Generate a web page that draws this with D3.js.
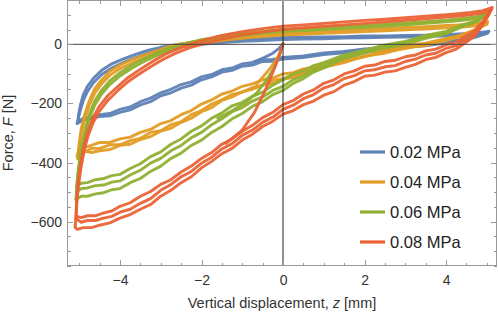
<!DOCTYPE html>
<html>
<head>
<meta charset="utf-8">
<script src="https://cdn.jsdelivr.net/npm/d3@7"></script>
<style>
  body { margin: 0; background: #fff; }
  svg { display: block; font-family: "Liberation Sans", Arial, sans-serif; }
</style>
</head>
<body>
<div id="app"></div>
<script>
const W = 498, H = 316
const plot = {left: 67, right: 497, top: 0, bottom: 266}

const pressures = ["0.02 MPa", "0.04 MPa", "0.06 MPa", "0.08 MPa"]
const colors = ["#5E81B5", "#E19C24", "#8FB032", "#EB6235"]

const xTicks = [-4, -2, 0, 2, 4]
const yTicks = [-600, -400, -200, 0]

// 0.02 MPa  [z (mm), F (N)]
const blueUp1 = [[5.05,44],[4.7,38],[4.3,35],[4,33],[3.5,31],[3,30],[2.5,28],[2,28],[1.5,26],[1,25],[0.5,24],[0,23],[-0.5,20],[-1,17],[-1.5,13],[-2,8],[-2.5,1],[-3,-10],[-3.3,-20],[-3.6,-33],[-3.9,-48],[-4.2,-66],[-4.45,-88],[-4.65,-115],[-4.8,-142],[-4.9,-170],[-4.97,-205],[-5.02,-240],[-5.03,-262]]
const blueUp2 = [[5.02,38],[4.7,33],[4.3,30],[4,28],[3.5,27],[3,25],[2.5,24],[2,22],[1.5,21],[1,19],[0.5,18],[0,16],[-0.5,13],[-1,10],[-1.5,6],[-2,0],[-2.5,-8],[-3,-20],[-3.3,-30],[-3.6,-44],[-3.9,-60],[-4.2,-80],[-4.45,-102],[-4.65,-130],[-4.8,-160],[-4.9,-190],[-4.97,-222],[-5.02,-250],[-5.05,-268]]
const blueLo1 = [[-5.03,-262],[-4.9,-250],[-4.7,-246],[-4.5,-238],[-4.25,-234],[-4,-220],[-3.75,-212],[-3.5,-194],[-3.25,-182],[-3,-164],[-2.75,-152],[-2.5,-136],[-2.25,-127],[-2,-110],[-1.75,-102],[-1.5,-86],[-1.25,-80],[-1,-66],[-0.75,-61],[-0.5,-52],[-0.25,-51],[0,-44],[0.5,-39],[1,-29],[1.5,-24],[2,-16],[2.5,-13],[3,-5],[3.5,-1],[4,9],[4.4,16],[4.75,29],[5.05,44]]
const blueLo2 = [[-5.05,-268],[-4.9,-256],[-4.7,-252],[-4.5,-244],[-4.25,-242],[-4,-230],[-3.75,-222],[-3.5,-205],[-3.25,-194],[-3,-174],[-2.75,-164],[-2.5,-148],[-2.25,-138],[-2,-120],[-1.75,-110],[-1.5,-94],[-1.25,-88],[-1,-74],[-0.75,-70],[-0.5,-58],[-0.25,-57],[0,-50],[0.5,-45],[1,-35],[1.5,-29],[2,-21],[2.5,-17],[3,-9],[3.5,-5],[4,5],[4.4,12],[4.75,25],[5.02,38]]
const blueInit = [[0,2],[-0.1,-14],[-0.25,-30],[-0.45,-44],[-0.7,-58]]

// 0.04 MPa
const orangeUp1 = [[5.02,76],[4.7,70],[4.3,66],[4,64],[3.5,60],[3,57],[2.5,54],[2,51],[1.5,47],[1,44],[0.5,41],[0,38],[-0.5,33],[-1,28],[-1.5,21],[-2,13],[-2.5,1],[-2.8,-8],[-3.1,-22],[-3.4,-36],[-3.7,-52],[-4,-70],[-4.25,-92],[-4.45,-120],[-4.62,-150],[-4.75,-190],[-4.86,-235],[-4.95,-285],[-5,-335],[-5.03,-388]]
const orangeUp2 = [[5,68],[4.7,62],[4.3,58],[4,56],[3.5,52],[3,49],[2.5,46],[2,43],[1.5,40],[1,37],[0.5,34],[0,31],[-0.5,26],[-1,20],[-1.5,13],[-2,4],[-2.5,-8],[-2.8,-18],[-3.1,-32],[-3.4,-46],[-3.7,-63],[-4,-82],[-4.25,-105],[-4.45,-133],[-4.62,-165],[-4.75,-205],[-4.86,-250],[-4.95,-300],[-5,-345],[-5.05,-380]]
const orangeLo1 = [[-5.03,-388],[-4.9,-368],[-4.7,-352],[-4.5,-352],[-4.25,-340],[-4,-340],[-3.75,-326],[-3.5,-318],[-3.25,-298],[-3,-292],[-2.75,-272],[-2.5,-262],[-2.25,-238],[-2,-224],[-1.75,-202],[-1.5,-188],[-1.25,-170],[-1,-162],[-0.75,-146],[-0.5,-138],[-0.25,-122],[0,-116],[0.25,-102],[0.5,-97],[0.75,-83],[1,-78],[1.5,-56],[2,-42],[2.5,-24],[3,-14],[3.5,2],[4,12],[4.4,33],[4.75,51],[5.02,76]]
const orangeLo2 = [[-5.05,-380],[-4.9,-350],[-4.7,-342],[-4.5,-332],[-4.25,-332],[-4,-320],[-3.75,-314],[-3.5,-298],[-3.25,-288],[-3,-268],[-2.75,-258],[-2.5,-238],[-2.25,-224],[-2,-202],[-1.75,-188],[-1.5,-168],[-1.25,-158],[-1,-142],[-0.75,-134],[-0.5,-120],[-0.25,-114],[0,-100],[0.25,-96],[0.5,-83],[0.75,-78],[1,-64],[1.5,-50],[2,-28],[2.5,-20],[3,-3],[3.5,4],[4,20],[4.4,32],[4.75,51],[5,68]]
const orangeLo3 = [[-5.02,-372],[-4.9,-360],[-4.7,-366],[-4.5,-360],[-4.25,-356],[-4,-342],[-3.75,-338],[-3.5,-322],[-3.25,-312],[-3,-294],[-2.75,-284],[-2.5,-264],[-2.25,-250],[-2,-228],[-1.75,-214],[-1.5,-190],[-1.25,-178],[-1,-160],[-0.75,-152],[-0.5,-138],[-0.25,-132],[0,-118],[0.25,-112],[0.5,-98],[0.75,-92],[1,-78],[1.5,-62],[2,-40],[2.5,-30],[3,-12],[3.5,-4],[4,14],[4.4,28],[4.75,51],[5.02,74]]
const orangeInit = [[0,2],[-0.08,-30],[-0.18,-55],[-0.32,-82],[-0.48,-108],[-0.65,-134]]

// 0.06 MPa
const greenUp1 = [[4.97,102],[4.7,92],[4.3,86],[4,82],[3.5,77],[3,72],[2.5,68],[2,64],[1.5,60],[1,56],[0.5,53],[0,50],[-0.5,44],[-1,37],[-1.5,28],[-2,16],[-2.4,2],[-2.8,-14],[-3.1,-30],[-3.4,-48],[-3.7,-70],[-4,-96],[-4.25,-124],[-4.45,-155],[-4.62,-192],[-4.75,-236],[-4.86,-290],[-4.95,-350],[-5.02,-420],[-5.06,-480],[-5.08,-525]]
const greenUp2 = [[4.93,95],[4.7,86],[4.3,80],[4,76],[3.5,71],[3,66],[2.5,62],[2,58],[1.5,54],[1,50],[0.5,47],[0,44],[-0.5,38],[-1,30],[-1.5,21],[-2,9],[-2.4,-5],[-2.8,-22],[-3.1,-38],[-3.4,-57],[-3.7,-80],[-4,-107],[-4.25,-136],[-4.45,-168],[-4.62,-206],[-4.75,-250],[-4.86,-305],[-4.95,-365],[-5.02,-430],[-5.06,-480],[-5.07,-500]]
const greenLo1 = [[-5.08,-525],[-4.95,-514],[-4.8,-514],[-4.6,-506],[-4.4,-502],[-4.2,-492],[-4,-488],[-3.75,-468],[-3.5,-454],[-3.25,-430],[-3,-412],[-2.75,-386],[-2.5,-368],[-2.25,-342],[-2,-324],[-1.75,-298],[-1.5,-278],[-1.25,-252],[-1,-234],[-0.75,-210],[-0.5,-194],[-0.25,-170],[0,-156],[0.25,-132],[0.5,-116],[0.75,-94],[1,-80],[1.5,-48],[2,-30],[2.5,-12],[3,0],[3.5,20],[4,36],[4.4,60],[4.75,78],[4.97,102]]
const greenLo2 = [[-5.07,-500],[-4.95,-488],[-4.8,-486],[-4.6,-478],[-4.4,-476],[-4.2,-466],[-4,-462],[-3.75,-442],[-3.5,-426],[-3.25,-402],[-3,-386],[-2.75,-360],[-2.5,-342],[-2.25,-316],[-2,-298],[-1.75,-272],[-1.5,-252],[-1.25,-228],[-1,-214],[-0.75,-192],[-0.5,-178],[-0.25,-156],[0,-142],[0.25,-120],[0.5,-106],[0.75,-84],[1,-72],[1.5,-42],[2,-24],[2.5,-6],[3,6],[3.5,26],[4,40],[4.4,62],[4.75,76],[4.93,95]]
const greenLo3 = [[-5.05,-480],[-4.95,-470],[-4.8,-468],[-4.6,-458],[-4.4,-454],[-4.2,-444],[-4,-440],[-3.75,-420],[-3.5,-404],[-3.25,-380],[-3,-364],[-2.75,-338],[-2.5,-320],[-2.25,-294],[-2,-276],[-1.75,-250],[-1.5,-232],[-1.25,-208],[-1,-196],[-0.75,-176],[-0.5,-162],[-0.25,-138],[0,-120],[0.25,-100],[0.5,-90],[0.75,-72],[1,-62],[1.5,-36],[2,-20],[2.5,-2],[3,10],[3.5,30],[4,44],[4.4,66],[4.75,80],[4.97,102]]
const greenInit = [[0,2],[-0.08,-35],[-0.2,-75],[-0.4,-120],[-0.65,-165],[-0.93,-198],[-1.25,-225],[-1.6,-250]]

// 0.08 MPa
const redUp1 = [[5.13,124],[4.9,114],[4.6,108],[4.3,104],[4,100],[3.5,95],[3,90],[2.5,85],[2,81],[1.5,76],[1,71],[0.5,66],[0,61],[-0.5,53],[-1,43],[-1.5,30],[-2,12],[-2.3,0],[-2.6,-16],[-2.9,-34],[-3.2,-58],[-3.5,-84],[-3.8,-112],[-4.05,-142],[-4.3,-174],[-4.5,-208],[-4.65,-245],[-4.78,-290],[-4.88,-340],[-4.96,-400],[-5.02,-460],[-5.06,-520],[-5.08,-580],[-5.1,-618]]
const redUp2 = [[5.1,116],[4.9,106],[4.6,100],[4.3,96],[4,92],[3.5,86],[3,81],[2.5,76],[2,71],[1.5,66],[1,61],[0.5,56],[0,50],[-0.5,42],[-1,32],[-1.5,18],[-2,0],[-2.3,-12],[-2.6,-28],[-2.9,-48],[-3.2,-72],[-3.5,-98],[-3.8,-126],[-4.05,-156],[-4.3,-190],[-4.5,-225],[-4.65,-262],[-4.78,-308],[-4.88,-360],[-4.96,-420],[-5.02,-480],[-5.06,-540],[-5.08,-590]]
const redLo1 = [[-5.1,-618],[-5.05,-626],[-4.9,-620],[-4.7,-620],[-4.5,-612],[-4.25,-604],[-4,-588],[-3.75,-576],[-3.5,-558],[-3.25,-542],[-3,-514],[-2.75,-494],[-2.5,-468],[-2.25,-448],[-2,-418],[-1.75,-396],[-1.5,-370],[-1.25,-352],[-1,-324],[-0.75,-304],[-0.5,-278],[-0.25,-260],[0,-236],[0.25,-224],[0.5,-204],[0.75,-192],[1,-172],[1.25,-160],[1.5,-138],[1.75,-126],[2,-108],[2.25,-104],[2.5,-94],[2.75,-90],[3,-78],[3.25,-68],[3.5,-52],[3.75,-44],[4,-28],[4.25,-16],[4.5,8],[4.7,28],[4.9,66],[5.05,100],[5.13,124]]
const redLo2 = [[-5.08,-590],[-4.95,-602],[-4.8,-596],[-4.6,-596],[-4.4,-588],[-4.2,-582],[-4,-568],[-3.75,-558],[-3.5,-538],[-3.25,-522],[-3,-494],[-2.75,-474],[-2.5,-448],[-2.25,-430],[-2,-402],[-1.75,-382],[-1.5,-354],[-1.25,-336],[-1,-308],[-0.75,-290],[-0.5,-264],[-0.25,-246],[0,-220],[0.25,-206],[0.5,-184],[0.75,-170],[1,-148],[1.25,-136],[1.5,-116],[1.75,-106],[2,-90],[2.25,-86],[2.5,-76],[2.75,-72],[3,-58],[3.25,-50],[3.5,-36],[3.75,-30],[4,-14],[4.25,-4],[4.5,18],[4.7,36],[4.9,70],[5.1,116]]
const redLo3 = [[-5.06,-582],[-4.95,-586],[-4.8,-580],[-4.6,-580],[-4.4,-570],[-4.2,-564],[-4,-548],[-3.75,-536],[-3.5,-514],[-3.25,-498],[-3,-474],[-2.75,-458],[-2.5,-432],[-2.25,-412],[-2,-386],[-1.75,-366],[-1.5,-338],[-1.25,-320],[-1,-294],[-0.75,-274],[-0.5,-248],[-0.25,-230],[0,-204],[0.25,-190],[0.5,-168],[0.75,-154],[1,-132],[1.25,-120],[1.5,-100],[1.75,-90],[2,-74],[2.25,-70],[2.5,-58],[2.75,-54],[3,-42],[3.25,-36],[3.5,-22],[3.75,-16],[4,-2],[4.25,8],[4.5,30],[4.7,46],[4.9,78],[5.1,116]]
const redInit = [[0,2],[-0.1,-40],[-0.25,-95],[-0.45,-160],[-0.7,-230],[-1,-290],[-1.4,-335]]

// curves per pressure, in draw order
const curves = [
  [blueLo1, blueLo2, blueUp1, blueUp2, blueInit],
  [orangeLo1, orangeLo2, orangeLo3, orangeUp1, orangeUp2, orangeInit],
  [greenLo1, greenLo2, greenLo3, greenUp1, greenUp2, greenInit],
  [redLo1, redLo2, redLo3, redUp1, redUp2, redInit]
]

const x = d3.scaleLinear().domain([-5.3, 5.25]).range([plot.left, plot.right])
const y = d3.scaleLinear().domain([-750, 150]).range([plot.bottom, plot.top])

const svg = d3.select('#app').append('svg')
    .attr('width', W)
    .attr('height', H)

svg.append('defs').append('clipPath').attr('id', 'clip')
  .append('rect')
    .attr('x', plot.left).attr('y', plot.top)
    .attr('width', plot.right - plot.left).attr('height', plot.bottom - plot.top)

const line = d3.line().x(d => x(d[0])).y(d => y(d[1]))

const data = svg.append('g').attr('clip-path', 'url(#clip)')
curves.forEach((set, i) => {
  data.selectAll(null)
    .data(set)
    .join('path')
      .attr('d', line)
      .attr('fill', 'none')
      .attr('stroke', colors[i])
      .attr('stroke-width', 2.9)
      .attr('stroke-linejoin', 'round')
      .attr('stroke-linecap', 'round')
      .attr('stroke-opacity', 0.95)
})

// zero axes on top of the data
svg.append('line')
    .attr('x1', x(0)).attr('x2', x(0))
    .attr('y1', plot.top).attr('y2', plot.bottom)
    .attr('stroke', '#222').attr('stroke-width', 1)
svg.append('line')
    .attr('x1', plot.left).attr('x2', plot.right)
    .attr('y1', y(0)).attr('y2', y(0))
    .attr('stroke', '#444').attr('stroke-width', 1)

// frame with inward ticks
const frameColor = '#999'
const bottomAxis = d3.axisBottom(x).tickValues(xTicks).tickSize(0)
  .tickFormat(d => d3.format('d')(d).replace('-', '\u2212'))

const xMinor = d3.range(-10, 11).map(d => d / 2)
const yMinor = d3.range(-15, 4).map(d => d * 50)

const ticks = svg.append('g')
    .attr('stroke', frameColor)
    .attr('stroke-width', 1)
    .attr('shape-rendering', 'crispEdges')
ticks.selectAll('.xb')
  .data(xMinor)
  .join('line')
    .attr('x1', d => Math.round(x(d)) + 0.5).attr('x2', d => Math.round(x(d)) + 0.5)
    .attr('y1', plot.bottom)
    .attr('y2', d => plot.bottom - (xTicks.includes(d) ? 6 : 3.5))
ticks.selectAll('.xt')
  .data(xMinor)
  .join('line')
    .attr('x1', d => Math.round(x(d)) + 0.5).attr('x2', d => Math.round(x(d)) + 0.5)
    .attr('y1', plot.top)
    .attr('y2', d => plot.top + (xTicks.includes(d) ? 6 : 3.5))
ticks.selectAll('.yl')
  .data(yMinor)
  .join('line')
    .attr('y1', d => Math.round(y(d)) + 0.5).attr('y2', d => Math.round(y(d)) + 0.5)
    .attr('x1', plot.left)
    .attr('x2', d => plot.left + (yTicks.includes(d) ? 6 : 3.5))
ticks.selectAll('.yr')
  .data(yMinor)
  .join('line')
    .attr('y1', d => Math.round(y(d)) + 0.5).attr('y2', d => Math.round(y(d)) + 0.5)
    .attr('x1', plot.right)
    .attr('x2', d => plot.right - (yTicks.includes(d) ? 6 : 3.5))

svg.append('rect')
    .attr('x', plot.left + 0.5).attr('y', plot.top + 0.5)
    .attr('width', plot.right - plot.left - 1).attr('height', plot.bottom - plot.top - 1)
    .attr('fill', 'none')
    .attr('stroke', frameColor)
    .attr('stroke-width', 1)

const gx = svg.append('g')
    .attr('transform', `translate(0,${plot.bottom})`)
    .call(bottomAxis)
gx.select('.domain').remove()
gx.selectAll('text')
    .attr('dy', 0)
    .attr('y', 19)
    .attr('fill', '#333')
    .attr('font-size', 14)
    .attr('font-family', '"Liberation Sans", Arial, sans-serif')

const leftAxis = d3.axisLeft(y).tickValues(yTicks).tickSize(0).tickPadding(5)
  .tickFormat(d => d3.format('d')(d).replace('-', '\u2212'))
const gy = svg.append('g')
    .attr('transform', `translate(${plot.left},0)`)
    .call(leftAxis)
gy.select('.domain').remove()
gy.selectAll('text')
    .attr('fill', '#333')
    .attr('font-size', 14)
    .attr('font-family', '"Liberation Sans", Arial, sans-serif')

// axis titles
const xTitle = svg.append('text')
    .attr('x', 282).attr('y', 308)
    .attr('text-anchor', 'middle')
    .attr('font-size', 14.5)
    .attr('fill', '#333')
xTitle.append('tspan').text('Vertical displacement, ')
xTitle.append('tspan').attr('font-style', 'italic').text('z')
xTitle.append('tspan').text(' [mm]')

const yTitle = svg.append('text')
    .attr('transform', `translate(13,${(plot.top + plot.bottom) / 2}) rotate(-90)`)
    .attr('text-anchor', 'middle')
    .attr('font-size', 14.5)
    .attr('fill', '#333')
yTitle.append('tspan').text('Force, ')
yTitle.append('tspan').attr('font-style', 'italic').text('F')
yTitle.append('tspan').text(' [N]')

// legend
const legend = svg.append('g')
    .selectAll('g')
    .data(pressures)
    .join('g')
    .attr('transform', (d, i) => `translate(360,${152 + i * 30})`)
legend.append('line')
    .attr('x1', 0).attr('x2', 25)
    .attr('stroke', (d, i) => colors[i])
    .attr('stroke-width', 3.2)
legend.append('text')
    .attr('x', 30)
    .attr('dy', '0.35em')
    .attr('font-size', 16.5)
    .attr('fill', '#222')
    .text(d => d)
</script>
</body>
</html>
